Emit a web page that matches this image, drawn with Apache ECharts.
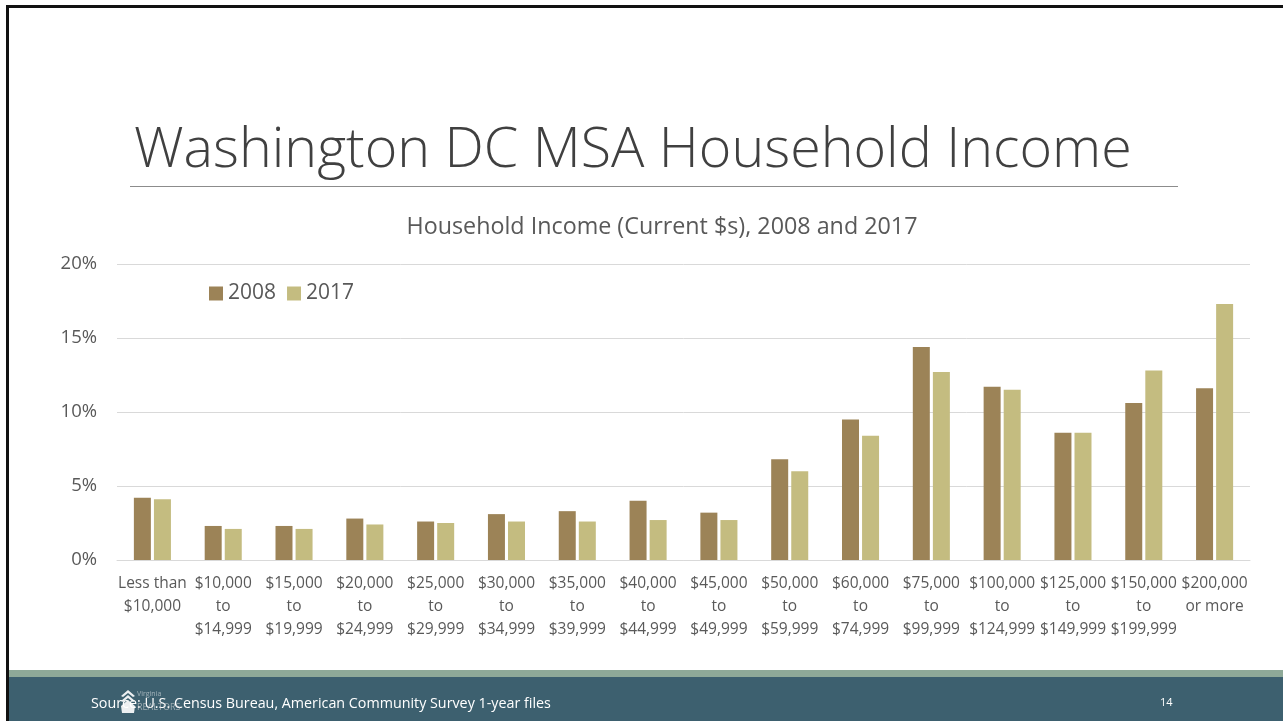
<!DOCTYPE html>
<html lang="en">
<head>
  <meta charset="UTF-8">
  <title>Washington DC MSA Household Income</title>
  <style>
    html, body { margin: 0; padding: 0; background: #fff; }
    #chart { width: 1283px; height: 721px; }
  </style>
</head>
<body>
<div id="chart"></div>
<script src="https://cdn.jsdelivr.net/npm/echarts@6/dist/echarts.min.js"></script>
<script>
// income brackets (three-line labels)
const categories = [
  'Less than\n$10,000', '$10,000\nto\n$14,999', '$15,000\nto\n$19,999', '$20,000\nto\n$24,999',
  '$25,000\nto\n$29,999', '$30,000\nto\n$34,999', '$35,000\nto\n$39,999', '$40,000\nto\n$44,999',
  '$45,000\nto\n$49,999', '$50,000\nto\n$59,999', '$60,000\nto\n$74,999', '$75,000\nto\n$99,999',
  '$100,000\nto\n$124,999', '$125,000\nto\n$149,999', '$150,000\nto\n$199,999', '$200,000\nor more'
];
// share of households, percent
const values2008 = [4.2, 2.3, 2.3, 2.8, 2.6, 3.1, 3.3, 4.0, 3.2, 6.8, 9.5, 14.4, 11.7, 8.6, 10.6, 11.6];
const values2017 = [4.1, 2.1, 2.1, 2.4, 2.5, 2.6, 2.6, 2.7, 2.7, 6.0, 8.4, 12.7, 11.5, 8.6, 12.8, 17.3];
const yTicks = [0, 5, 10, 15, 20];

const textColor = '#595959';
const font = '"Open Sans", "DejaVu Sans", sans-serif';

let myChart = echarts.init(document.getElementById('chart'));
myChart.setOption({
  backgroundColor: '#fff',
  textStyle: { fontFamily: font },
  title: {
    text: 'Household Income (Current $s), 2008 and 2017',
    left: 657,
    textAlign: 'center',
    top: 211,
    textStyle: { fontSize: 23.3, fontWeight: 'normal', color: textColor, fontFamily: font }
  },
  legend: {
    left: 204,
    top: 278,
    itemWidth: 14,
    itemHeight: 14,
    itemGap: 11,
    icon: 'rect',
    textStyle: { fontSize: 21, color: textColor },
    data: ['2008', '2017']
  },
  grid: { left: 117, right: 33, top: 264, bottom: 161 },
  xAxis: {
    type: 'category',
    data: categories,
    axisLine: { lineStyle: { color: '#d9d9d9', width: 1 } },
    axisTick: { show: false },
    axisLabel: {
      interval: 0,
      margin: 12,
      fontSize: 15.5,
      lineHeight: 23,
      color: textColor,
      fontFamily: font
    }
  },
  yAxis: {
    type: 'value',
    min: yTicks[0],
    max: yTicks[yTicks.length - 1],
    interval: 5,
    axisLine: { show: false },
    axisTick: { show: false },
    splitLine: { lineStyle: { color: '#d9d9d9', width: 1 } },
    axisLabel: {
      formatter: '{value}%',
      margin: 20,
      fontSize: 18.5,
      color: textColor,
      fontFamily: font
    }
  },
  series: [
    {
      name: '2008',
      type: 'bar',
      data: values2008,
      barWidth: 17,
      barGap: '18%',
      itemStyle: { color: '#9c8357' }
    },
    {
      name: '2017',
      type: 'bar',
      data: values2017,
      barWidth: 17,
      itemStyle: { color: '#c4bc80' }
    }
  ],
  graphic: [
    // slide title
    {
      type: 'text', left: 134, top: 123,
      style: { text: 'Washington DC MSA Household Income', fontSize: 55.6, fontWeight: 300,
        fontFamily: font, fill: '#404040' }
    },
    {
      type: 'rect', shape: { x: 130, y: 186, width: 1048, height: 1 },
      style: { fill: '#8c8c8c' }
    },
    // frame
    { type: 'rect', shape: { x: 6, y: 5, width: 1277, height: 3 }, style: { fill: '#111' } },
    { type: 'rect', shape: { x: 6, y: 5, width: 3, height: 716 }, style: { fill: '#111' } },
    // footer
    { type: 'rect', shape: { x: 9, y: 670, width: 1274, height: 7 }, style: { fill: '#8ea998' } },
    { type: 'rect', shape: { x: 9, y: 677, width: 1274, height: 44 }, style: { fill: '#3d606f' } },
    {
      type: 'text', left: 91, top: 697,
      style: { text: 'Source: U.S. Census Bureau, American Community Survey 1-year files',
        fontSize: 14.3, fontFamily: font, fill: '#ffffff' }
    },
    {
      type: 'text', left: 1160, top: 697,
      style: { text: '14', fontSize: 11, fontFamily: font, fill: '#ffffff' }
    },
    // logo mark
    {
      type: 'polygon', shape: { points: [[121, 696], [128, 690], [135, 696], [133, 697], [128, 693], [123, 697]] },
      style: { fill: 'rgba(255,255,255,0.9)' }
    },
    {
      type: 'polygon', shape: { points: [[121, 701], [128, 695], [135, 701], [133, 702], [128, 698], [123, 702]] },
      style: { fill: 'rgba(255,255,255,0.9)' }
    },
    {
      type: 'polygon', shape: { points: [[121, 706], [128, 700], [135, 706], [134, 713], [122, 713]] },
      style: { fill: 'rgba(255,255,255,0.9)' }
    },
    {
      type: 'text', left: 137, top: 690,
      style: { text: 'Virginia', fontSize: 7, fontFamily: font, fill: 'rgba(255,255,255,0.5)' }
    },
    {
      type: 'text', left: 137, top: 703,
      style: { text: 'REALTORS', fontSize: 9, fontFamily: font, fill: 'rgba(220,220,220,0.6)' }
    }
  ]
});
window.addEventListener('resize', () => {
  myChart.resize();
});
</script>
</body>
</html>
